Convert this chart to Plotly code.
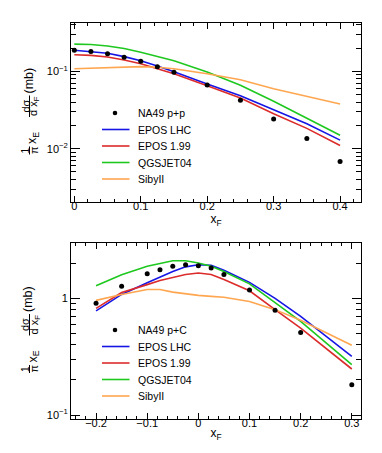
import plotly.graph_objects as go

# --- p+p panel (top) ---
pp_x = [0, 0.025, 0.05, 0.075, 0.1, 0.125, 0.15, 0.2, 0.25, 0.3, 0.35, 0.4]
pp_data = [0.187, 0.181, 0.169, 0.152, 0.135, 0.115, 0.097, 0.0665, 0.0422, 0.0242, 0.0135, 0.0068]
pp_epos_lhc = [0.187, 0.180, 0.171, 0.155, 0.137, 0.117, 0.099, 0.0686, 0.0484, 0.0319, 0.0210, 0.0129]
pp_epos_199 = [0.164, 0.161, 0.153, 0.140, 0.125, 0.108, 0.093, 0.0652, 0.0452, 0.0283, 0.0183, 0.0110]
pp_qgsjet = [0.225, 0.222, 0.213, 0.197, 0.176, 0.156, 0.137, 0.098, 0.066, 0.041, 0.0249, 0.0149]
pp_sibyll = [0.108, 0.110, 0.112, 0.114, 0.115, 0.113, 0.108, 0.093, 0.078, 0.0596, 0.0478, 0.0378]

# --- p+C panel (bottom) ---
pc_x = [-0.2, -0.15, -0.1, -0.075, -0.05, -0.025, 0, 0.025, 0.05, 0.1, 0.15, 0.2, 0.3]
pc_data = [0.906, 1.27, 1.62, 1.76, 1.88, 1.94, 1.90, 1.82, 1.60, 1.18, 0.79, 0.51, 0.182]
pc_epos_lhc = [0.78, 1.08, 1.36, 1.52, 1.70, 1.86, 1.94, 1.92, 1.74, 1.37, 1.00, 0.70, 0.318]
pc_epos_199 = [0.82, 1.12, 1.31, 1.42, 1.51, 1.60, 1.65, 1.60, 1.45, 1.16, 0.80, 0.555, 0.248]
pc_qgsjet = [1.28, 1.59, 1.88, 2.00, 2.10, 2.10, 2.01, 1.88, 1.70, 1.33, 0.92, 0.635, 0.27]
pc_sibyll = [0.96, 1.08, 1.19, 1.19, 1.13, 1.09, 1.06, 1.04, 1.02, 0.94, 0.80, 0.65, 0.396]

model_names = ['EPOS LHC', 'EPOS 1.99', 'QGSJET04', 'SibyII']
COLORS = ['#1515e6', '#dc2b2b', '#1ec81e', '#ffa650']
LW = 1.6
FONT = 'Liberation Sans, Arial, sans-serif'

# plot frame in pixels (margins)
ML, MR, MT, MB = 63, 29, 15, 42
W, H = 382, 453
PW, PH = W - ML - MR, H - MT - MB


def px(sx):
    return (sx - ML) / PW


def py(sy):
    return (H - MB - sy) / PH


fig = go.Figure()


def add_panel(x, data, models, xa, ya):
    for i, (nm, ys) in enumerate(zip(model_names, models)):
        fig.add_trace(go.Scatter(x=x, y=ys, mode='lines', name=nm,
                                 line=dict(color=COLORS[i], width=LW),
                                 xaxis=xa, yaxis=ya, showlegend=False))
    fig.add_trace(go.Scatter(x=x, y=data, mode='markers', name='NA49',
                             marker=dict(color='black', size=5),
                             xaxis=xa, yaxis=ya, showlegend=False))


add_panel(pp_x, pp_data, [pp_epos_lhc, pp_epos_199, pp_qgsjet, pp_sibyll], 'x', 'y')
add_panel(pc_x, pc_data, [pc_epos_lhc, pc_epos_199, pc_qgsjet, pc_sibyll], 'x2', 'y2')

axis_common = dict(showline=True, linecolor='black', linewidth=1, mirror='allticks',
                   ticks='inside', tickcolor='black', showgrid=False, zeroline=False,
                   tickfont=dict(family=FONT, size=11, color='black'))

# minor ticks on the log axes
top_minor = [k * 10 ** e for e in (-3, -2, -1) for k in range(2, 10) if 0.002 <= k * 10 ** e <= 0.42]
bot_minor = [k * 10 ** e for e in (-1, 0) for k in range(2, 10) if k * 10 ** e <= 2.95]

x_title = dict(text='x<sub>F</sub>', font=dict(size=12), standoff=0)

fig.update_layout(
    width=W, height=H,
    margin=dict(l=ML, r=MR, t=MT, b=MB),
    plot_bgcolor='white', paper_bgcolor='white',
    font=dict(family=FONT, color='black'),
    showlegend=False,
    xaxis=dict(axis_common, domain=[0, 1], anchor='y', range=[-0.005, 0.4315],
               tickvals=[0, 0.1, 0.2, 0.3, 0.4], ticktext=['0', '0.1', '0.2', '0.3', '0.4'], ticklen=6,
               ticklabelstandoff=-6,
               minor=dict(ticks='inside', dtick=0.02, tick0=0, ticklen=3, tickcolor='black'),
               title=x_title),
    yaxis=dict(axis_common, domain=[py(194), 1], anchor='x', type='log', range=[-2.69, -0.375],
               tickvals=[0.01, 0.1], ticktext=['10<sup>\u22122</sup>', '10<sup>\u22121</sup>'], ticklen=9,
               minor=dict(ticks='inside', tickvals=top_minor, ticklen=5, tickcolor='black')),
    xaxis2=dict(axis_common, domain=[0, 1], anchor='y2', range=[-0.249, 0.318],
                tickvals=[-0.2, -0.1, 0, 0.1, 0.2, 0.3], ticklen=6,
                ticktext=['\u22120.2', '\u22120.1', '0', '0.1', '0.2', '0.3'],
                ticklabelstandoff=-6,
                minor=dict(ticks='inside', dtick=0.02, tick0=0, ticklen=3, tickcolor='black'),
                title=x_title),
    yaxis2=dict(axis_common, domain=[0, py(235)], anchor='x2', type='log', range=[-1.034, 0.474],
                tickvals=[0.1, 1], ticktext=['10<sup>\u22121</sup>', '1'], ticklen=9,
                minor=dict(ticks='inside', tickvals=bot_minor, ticklen=5, tickcolor='black')),
)

annotations = []
shapes = []

# y-axis title built from pieces (fractions), rotated, one per panel
for cy in (104.5, 323):
    pieces = [('(mb)', 20, cy - 32, 12.5),
              ('d\u03c3', 17, cy - 6, 11),
              ('d\u00a0x<sub>F</sub>', 26, cy - 6.5, 11),
              ('x<sub>E</sub>', 25, cy + 25.5, 12.5),
              ('1', 17, cy + 38, 10),
              ('\u03c0', 25.5, cy + 38, 11)]
    for txt, sx, sy, fs in pieces:
        annotations.append(dict(text=txt, xref='paper', yref='paper', x=px(sx), y=py(sy),
                                xanchor='center', yanchor='middle', textangle=-90, showarrow=False,
                                font=dict(family=FONT, size=fs, color='black')))
    shapes.append(dict(type='line', xref='paper', yref='paper', x0=px(21.5), x1=px(21.5),
                       y0=py(cy - 17), y1=py(cy + 4.5), line=dict(color='black', width=1)))
    shapes.append(dict(type='line', xref='paper', yref='paper', x0=px(21.5), x1=px(21.5),
                       y0=py(cy + 34), y1=py(cy + 42), line=dict(color='black', width=1)))

# legends (ROOT style, tight rows)
ROW = 16.5
for y0, data_label in ((105, 'NA49 p+p'), (322, 'NA49 p+C')):
    labels = [data_label] + model_names
    for j, lab in enumerate(labels):
        ry = y0 + j * ROW
        annotations.append(dict(text=lab, xref='paper', yref='paper', x=px(128), y=py(ry),
                                xanchor='left', yanchor='middle', showarrow=False,
                                font=dict(family=FONT, size=10.5, color='black')))
        if j == 0:
            shapes.append(dict(type='circle', xref='paper', yref='paper',
                               x0=px(104.7), x1=px(109.3), y0=py(ry + 2.3), y1=py(ry - 2.3),
                               fillcolor='black', line=dict(color='black', width=0)))
        else:
            shapes.append(dict(type='line', xref='paper', yref='paper',
                               x0=px(94), x1=px(121.5), y0=py(ry), y1=py(ry),
                               line=dict(color=COLORS[j - 1], width=LW)))

fig.update_layout(annotations=annotations, shapes=shapes)

fig.write_html("out.html")
